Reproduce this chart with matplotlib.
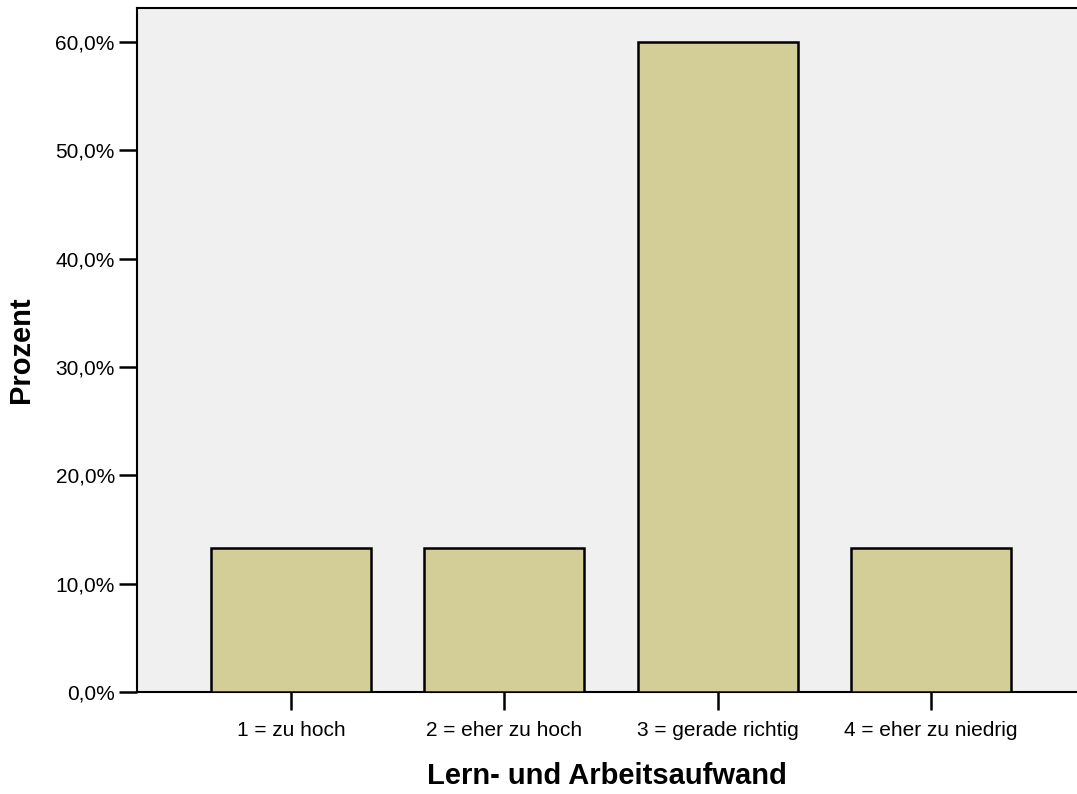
import matplotlib
matplotlib.use('Agg')
import matplotlib.pyplot as plt
from matplotlib.ticker import FuncFormatter

categories = ['1 = zu hoch', '2 = eher zu hoch', '3 = gerade richtig', '4 = eher zu niedrig']
percent = [13.33, 13.33, 60.0, 13.33]
yticks = [0, 10, 20, 30, 40, 50, 60]

plt.rcParams['font.family'] = ['Liberation Sans', 'DejaVu Sans']

fig = plt.figure(figsize=(10.77, 7.94), dpi=100)
ax = fig.add_axes([137 / 1077, 102 / 794, 940 / 1077, 684 / 794])
ax.set_facecolor('#f0f0f0')

x = list(range(len(categories)))
ax.bar(x, percent, width=0.75, color='#d3ce98', edgecolor='black', linewidth=1.8, zorder=3)

ax.set_xlim(-0.722, 3.684)
ax.set_ylim(0, 63.15)
ax.set_xticks(x)
ax.set_xticklabels(categories, fontsize=15)
ax.set_yticks(yticks)
ax.yaxis.set_major_formatter(FuncFormatter(lambda v, p: f'{v:.1f}%'.replace('.', ',')))
ax.tick_params(axis='y', labelsize=15, length=13, width=1.8, direction='out', pad=3)
ax.tick_params(axis='x', length=13, width=1.8, direction='out', pad=8)

ax.spines['right'].set_visible(False)
for s in ['left', 'top', 'bottom']:
    ax.spines[s].set_linewidth(1.5)

ax.set_ylabel('Prozent', fontsize=21, fontweight='bold', labelpad=15)
ax.set_xlabel('Lern- und Arbeitsaufwand', fontsize=21, fontweight='bold', labelpad=16)

fig.savefig('out.png', dpi=100)
